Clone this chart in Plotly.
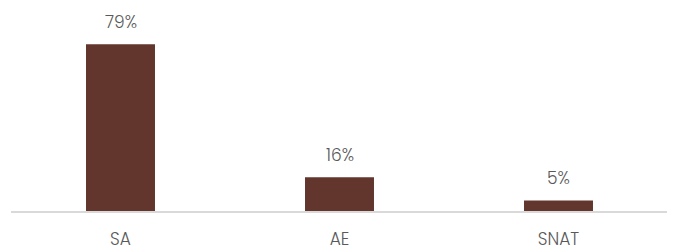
import plotly.graph_objects as go

categories = ["SA", "AE", "SNAT"]
values = [79, 16, 5]
labels = ["79%", "16%", "5%"]

bar_color = "#62362C"
text_color = "#595959"
font_family = "Poppins, Lato, Open Sans, sans-serif"

fig = go.Figure()
fig.add_trace(go.Bar(
    x=categories, y=values,
    marker=dict(color=bar_color, line=dict(width=0)),
    hoverinfo="skip",
))

for c, v, t in zip(categories, values, labels):
    fig.add_annotation(x=c, y=v, text=t, showarrow=False, yanchor="bottom",
                       yshift=8, font=dict(size=17, color=text_color, family=font_family, weight=300))

fig.update_layout(
    width=675, height=252,
    margin=dict(l=3, r=15, t=13, b=49),
    paper_bgcolor="white", plot_bgcolor="white",
    bargap=0.685,
    showlegend=False,
    xaxis=dict(showline=True, linecolor="#D9D9D9", linewidth=1.5, showgrid=False,
               ticks="", ticklabelstandoff=12, automargin=False,
               tickfont=dict(size=17, color=text_color, family=font_family, weight=300)),
    yaxis=dict(range=[0, 90], visible=False, showgrid=False, zeroline=False, automargin=False),
)

fig.write_html("out.html")
